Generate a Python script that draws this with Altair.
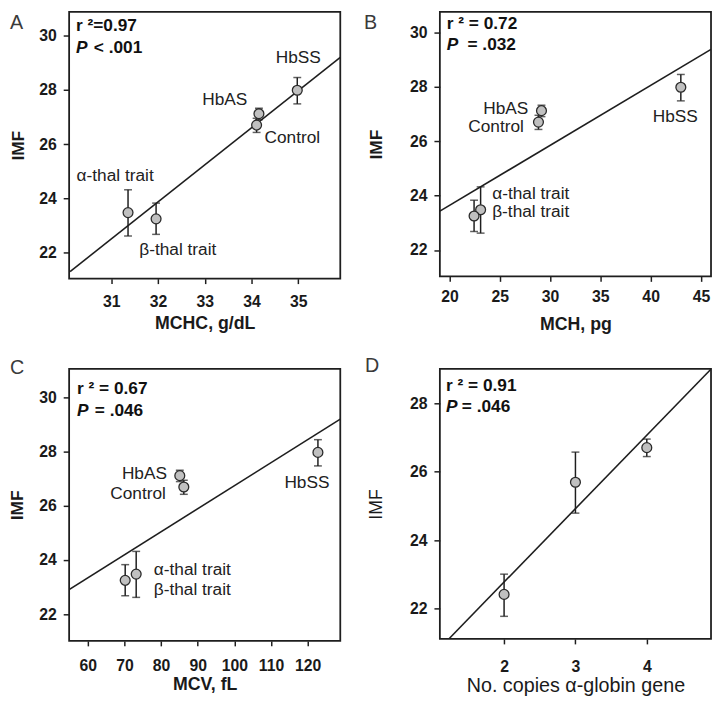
import altair as alt
import pandas as pd

# ---- data ----
groups = ["α-thal trait", "β-thal trait", "Control", "HbAS", "HbSS"]
imf = [23.48, 23.25, 26.70, 27.12, 27.98]
imf_lo = [22.62, 22.68, 26.43, 26.90, 27.48]
imf_hi = [24.32, 23.83, 26.95, 27.32, 28.45]

mchc = [31.36, 31.96, 34.11, 34.16, 34.98]
mch = [23.1, 22.45, 28.85, 29.15, 43.0]
mcv = [73.2, 70.2, 86.2, 85.1, 122.8]

copies = [2, 3, 4]
imf_copies = [22.42, 25.69, 26.70]
copies_lo = [21.78, 24.79, 26.44]
copies_hi = [23.01, 26.57, 26.95]

# regression line end points
lineA_x = [30.12, 35.9]
lineA_y = [21.31, 29.19]
lineB_x = [19.05, 46.0]
lineB_y = [23.43, 29.37]
lineC_x = [54.9, 128.9]
lineC_y = [22.91, 29.21]
lineD_x = [1.225, 4.905]
lineD_y = [21.12, 29.0]

# point labels: text, x, y, align
labA = [("HbSS", 35.0, 29.0, "center"), ("HbAS", 33.43, 27.43, "center"),
        ("Control", 34.28, 26.04, "left"), ("α-thal trait", 30.26, 24.64, "left"),
        ("β-thal trait", 31.6, 21.91, "left")]
labB = [("HbAS", 27.84, 27.01, "right"), ("Control", 27.4, 26.35, "right"),
        ("HbSS", 42.45, 26.71, "center"), ("α-thal trait", 24.25, 23.87, "left"),
        ("β-thal trait", 24.25, 23.2, "left")]
labC = [("HbAS", 81.6, 27.0, "right"), ("Control", 81.3, 26.27, "right"),
        ("HbSS", 119.8, 26.66, "center"), ("α-thal trait", 78.0, 23.43, "left"),
        ("β-thal trait", 78.0, 22.7, "left")]

INK = "#1e1e1e"
FONT = "Liberation Sans"


def make_panel(xv, yv, lo, hi, lx, ly, labels, xdom, ydom, xticks, yticks,
               xtitle, stat_r, stat_p, letter, w, h, letter_pos, stat_pos, p_off,
               x_lpad, x_tpad, y_tpad, title_weight="bold", xt_size=18, yt_size=17.5):
    xs = alt.Scale(domain=xdom, nice=False, zero=False)
    ys = alt.Scale(domain=ydom, nice=False, zero=False)
    xax = alt.Axis(values=xticks, title=xtitle, titleFontWeight=title_weight,
                   titleFontSize=xt_size, labelPadding=x_lpad, titlePadding=x_tpad)
    yax = alt.Axis(values=yticks, title="IMF", titleFontWeight=title_weight,
                   titleFontSize=yt_size, titlePadding=y_tpad)

    def X(f):
        return alt.X(f, type="quantitative", scale=xs, axis=xax, title=xtitle)

    def Y(f):
        return alt.Y(f, type="quantitative", scale=ys, axis=yax, title="IMF")

    pts = pd.DataFrame({"x": xv, "y": yv, "lo": lo, "hi": hi})
    ln = pd.DataFrame({"x": lx, "y": ly})

    layers = []
    layers.append(alt.Chart(ln).mark_line(color=INK, strokeWidth=1.6, clip=True)
                  .encode(x=X("x"), y=Y("y")))
    layers.append(alt.Chart(pts).mark_rule(color=INK, strokeWidth=1.5)
                  .encode(x=X("x"), y=Y("lo"), y2="hi:Q"))
    for f in ["lo", "hi"]:
        layers.append(alt.Chart(pts).mark_tick(color=INK, orient="horizontal", size=8,
                                               thickness=1.5)
                      .encode(x=X("x"), y=Y(f)))
    layers.append(alt.Chart(pts).mark_circle(size=100, color="#c0c0c0", stroke="#2a2a2a",
                                             strokeWidth=1.3, opacity=1)
                  .encode(x=X("x"), y=Y("y")))
    if labels:
        for al in ["left", "center", "right"]:
            sub = [l for l in labels if l[3] == al]
            if not sub:
                continue
            ldf = pd.DataFrame({"t": [s[0] for s in sub], "x": [s[1] for s in sub],
                                "y": [s[2] for s in sub]})
            layers.append(alt.Chart(ldf).mark_text(align=al, baseline="alphabetic",
                                                   font=FONT, fontSize=17.5,
                                                   color="#222")
                          .encode(x=X("x"), y=Y("y"), text="t:N"))
    sx, sy1, sy2 = stat_pos
    stat_style = dict(align="left", baseline="alphabetic", font=FONT, fontWeight="bold",
                      fontSize=17.5, color="#111")
    layers.append(alt.Chart(pd.DataFrame({"t": [stat_r]})).mark_text(**stat_style)
                  .encode(x=alt.value(sx), y=alt.value(sy1), text="t:N"))
    layers.append(alt.Chart(pd.DataFrame({"t": ["P"]})).mark_text(fontStyle="italic", **stat_style)
                  .encode(x=alt.value(sx), y=alt.value(sy2), text="t:N"))
    layers.append(alt.Chart(pd.DataFrame({"t": [stat_p]})).mark_text(**stat_style)
                  .encode(x=alt.value(sx + p_off), y=alt.value(sy2), text="t:N"))
    lxp, lyp = letter_pos
    layers.append(alt.Chart(pd.DataFrame({"t": [letter]})).mark_text(
        align="left", baseline="alphabetic", font=FONT, fontSize=20,
        color="#3a3a3a").encode(x=alt.value(lxp), y=alt.value(lyp), text="t:N"))
    return alt.layer(*layers).properties(width=w, height=h)


A = make_panel(mchc, imf, imf_lo, imf_hi, lineA_x, lineA_y, labA, [30.1, 35.9], [21.05, 30.865],
               [31, 32, 33, 34, 35], [22, 24, 26, 28, 30], "MCHC, g/dL",
               "r ²=0.97", "< .001", "A", 275, 270.6, (-60, 17), (7, 19.3, 41.3), 18,
               10, 6, 11.5)
B = make_panel(mch, imf, imf_lo, imf_hi, lineB_x, lineB_y, labB, [19.05, 46.0], [21.03, 30.75],
               [20, 25, 30, 35, 40, 45], [22, 24, 26, 28, 30], "MCH, pg",
               "r ² = 0.72", "= .032", "B", 275, 268.3, (-77, 17), (7, 17.3, 38.3), 21,
               7, 12, 24.5)
C = make_panel(mcv, imf, imf_lo, imf_hi, lineC_x, lineC_y, labC, [54.9, 128.9], [21.01, 31.07],
               [60, 70, 80, 90, 100, 110, 120], [22, 24, 26, 28, 30], "MCV, fL",
               "r ² = 0.67", "= .046", "C", 275, 276, (-60, 5), (8, 25.7, 48.3), 18,
               11.5, 2.5, 12)
D = make_panel(copies, imf_copies, copies_lo, copies_hi, lineD_x, lineD_y, None,
               [1.1, 4.9], [21.12, 29.0], [2, 3, 4], [22, 24, 26, 28],
               "No. copies α-globin gene", "r ² = 0.91", "= .046", "D", 275, 274,
               (-76, 3), (6.3, 22.7, 44.3), 16,
               15, 1, 24.5, title_weight="normal", xt_size=20, yt_size=18)

chart = alt.vconcat(
    alt.hconcat(A, B, spacing=22),
    alt.hconcat(C, D, spacing=23),
    spacing=20,
).properties(
    padding={"left": 0, "top": -2, "right": 0, "bottom": 0}
).configure_view(
    stroke=INK, strokeWidth=1.8
).configure_axis(
    domain=False, grid=False, ticks=True, tickColor=INK, tickWidth=1.5, tickSize=5,
    labelFont=FONT, labelFontWeight="bold", labelFontSize=16, labelColor="#1a1a1a",
    titleFont=FONT, titleFontWeight="bold", titleFontSize=18, titleColor="#1a1a1a",
).configure_axisY(
    tickSize=6, labelPadding=7
)

chart.save("out.html", embed_options={"renderer": "svg", "actions": False})
